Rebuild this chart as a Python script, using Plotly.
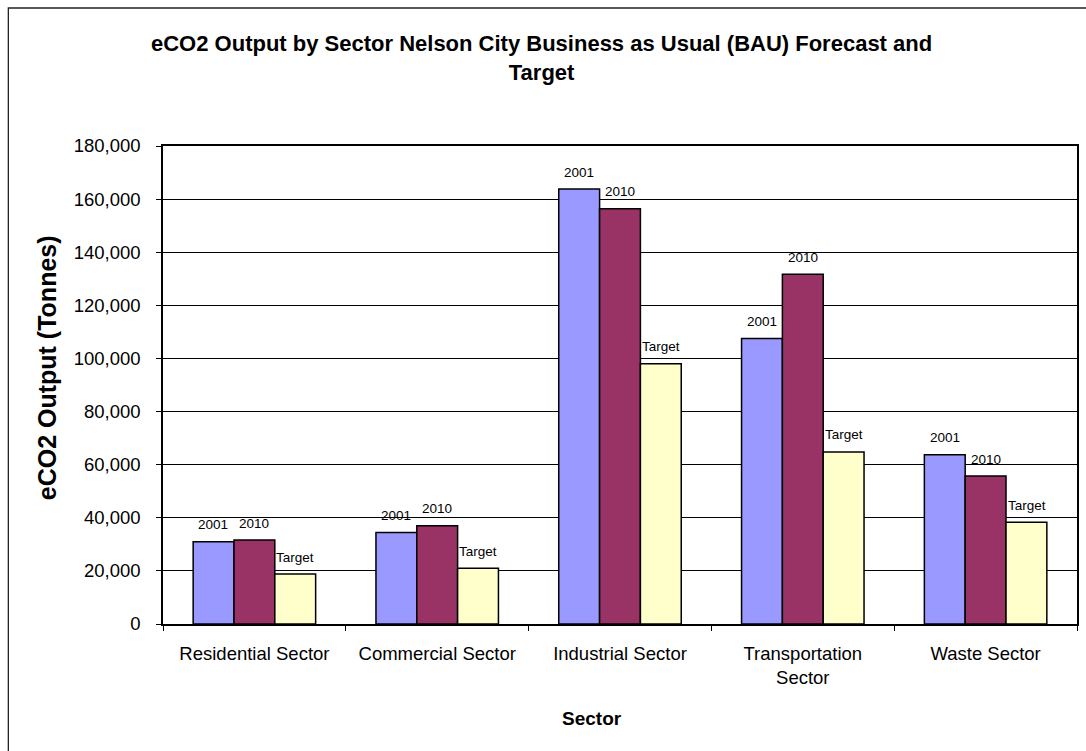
import plotly.graph_objects as go

sectors = ["Residential Sector", "Commercial Sector", "Industrial Sector",
           "Transportation<br>Sector", "Waste Sector"]
series_names = ["2001", "2010", "Target"]
values_2001 = [31000, 34500, 163800, 107500, 63700]
values_2010 = [31600, 37000, 156400, 131700, 55700]
values_target = [18800, 21000, 98000, 64800, 38300]
colors = ["#9999FF", "#993366", "#FFFFCC"]

y_ticks = list(range(0, 180001, 20000))

FONT = "Liberation Sans, Arial, sans-serif"

W, H = 1086, 751
L, R, T, B = 163, 7, 146, 127
PW = W - L - R
PH = H - T - B

def px_x(p):
    return (p - L) / PW

def px_y(p):
    return (H - B - p) / PH

fig = go.Figure()
all_vals = [values_2001, values_2010, values_target]
for name, vals, col in zip(series_names, all_vals, colors):
    fig.add_trace(go.Bar(
        x=sectors, y=vals, name=name,
        marker=dict(color=col, line=dict(color="black", width=1.5)),
        hoverinfo="x+y+name",
    ))

annotations = []
group_w = PW / len(sectors) * (1 - 0.33)
bar_w = group_w / 3
for i, (name, vals) in enumerate(zip(series_names, all_vals)):
    for s, v in zip(sectors, vals):
        annotations.append(dict(
            x=s, y=v, xref="x", yref="y", text=name, showarrow=False,
            xshift=(i - 1) * bar_w, yshift=17, yanchor="middle",
            font=dict(family=FONT, size=13.5, color="black"),
        ))

annotations.append(dict(
    x=px_x(542), y=px_y(58), xref="paper", yref="paper",
    text="<b>eCO2 Output by Sector Nelson City Business as Usual (BAU) Forecast and<br>Target</b>",
    showarrow=False, xanchor="center", yanchor="middle",
    font=dict(family=FONT, size=22, color="black"),
))
annotations.append(dict(
    x=px_x(47), y=px_y(368), xref="paper", yref="paper",
    text="<b>eCO2 Output (Tonnes)</b>", textangle=-90,
    showarrow=False, xanchor="center", yanchor="middle",
    font=dict(family=FONT, size=25, color="black"),
))
annotations.append(dict(
    x=px_x(593), y=px_y(718), xref="paper", yref="paper",
    text="<b>Sector</b>",
    showarrow=False, xanchor="center", yanchor="middle",
    font=dict(family=FONT, size=19, color="black"),
))

fig.update_layout(
    width=W, height=H,
    margin=dict(l=L, r=R, t=T, b=B, pad=0),
    paper_bgcolor="white", plot_bgcolor="white",
    barmode="group", bargap=0.33, bargroupgap=0,
    showlegend=False,
    annotations=annotations,
    shapes=[dict(type="rect", xref="paper", yref="paper",
                 x0=px_x(8), x1=px_x(1095), y0=px_y(760), y1=px_y(8),
                 line=dict(color="#222", width=1.3), layer="below")],
    font=dict(family=FONT, color="black"),
)
fig.update_xaxes(
    showline=True, linecolor="black", linewidth=1.5, mirror=True,
    ticks="outside", ticklen=5, tickcolor="black", tickson="boundaries",
    tickfont=dict(family=FONT, size=18.5, color="black"),
    showgrid=False, ticklabelstandoff=12,
)
fig.update_yaxes(
    range=[0, 180000], tickvals=y_ticks, tickformat=",",
    showline=True, linecolor="black", linewidth=1.5, mirror=True,
    ticks="outside", ticklen=5, tickcolor="black",
    tickfont=dict(family=FONT, size=18.5, color="black"),
    showgrid=True, gridcolor="black", gridwidth=1,
    ticklabelstandoff=12, zeroline=False,
)

fig.write_html("out.html")
